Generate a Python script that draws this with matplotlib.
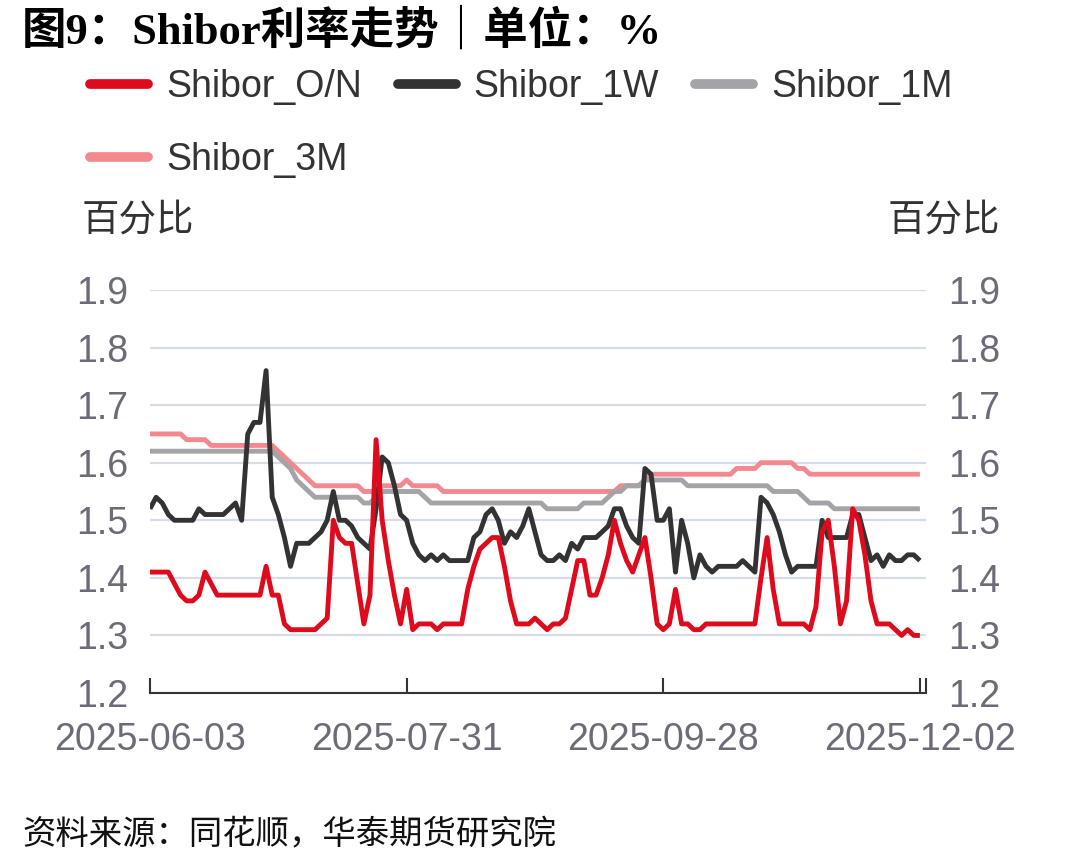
import matplotlib
matplotlib.use('Agg')
import matplotlib.pyplot as plt
from matplotlib.lines import Line2D
import numpy as np

# x 轴刻度（交易日序号）
tick_dates = ['2025-06-03', '2025-07-31', '2025-09-28', '2025-12-02']
tick_pos = [0, 42, 84, 126]

# Shibor 隔夜
on = [1.41, 1.41, 1.41, 1.41, 1.39, 1.37, 1.36, 1.36, 1.37, 1.41,
      1.39, 1.37, 1.37, 1.37, 1.37, 1.37, 1.37, 1.37, 1.37, 1.42,
      1.37, 1.37, 1.32, 1.31, 1.31, 1.31, 1.31, 1.31, 1.32, 1.33,
      1.50, 1.47, 1.46, 1.46, 1.39, 1.32, 1.37, 1.64, 1.50, 1.43,
      1.37, 1.32, 1.38, 1.31, 1.32, 1.32, 1.32, 1.31, 1.32, 1.32,
      1.32, 1.32, 1.38, 1.42, 1.45, 1.46, 1.47, 1.47, 1.42, 1.36,
      1.32, 1.32, 1.32, 1.33, 1.32, 1.31, 1.32, 1.32, 1.33, 1.38,
      1.43, 1.43, 1.37, 1.37, 1.40, 1.44, 1.50, 1.46, 1.43, 1.41,
      1.44, 1.47, 1.40, 1.32, 1.31, 1.32, 1.38, 1.32, 1.32, 1.31,
      1.31, 1.32, 1.32, 1.32, 1.32, 1.32, 1.32, 1.32, 1.32, 1.32,
      1.40, 1.47, 1.38, 1.32, 1.32, 1.32, 1.32, 1.32, 1.31, 1.35,
      1.48, 1.50, 1.42, 1.32, 1.36, 1.52, 1.50, 1.44, 1.36, 1.32,
      1.32, 1.32, 1.31, 1.30, 1.31, 1.30, 1.30]

# Shibor 1周
w1 = [1.52, 1.54, 1.53, 1.51, 1.50, 1.50, 1.50, 1.50, 1.52, 1.51,
      1.51, 1.51, 1.51, 1.52, 1.53, 1.50, 1.65, 1.67, 1.67, 1.76,
      1.54, 1.51, 1.47, 1.42, 1.46, 1.46, 1.46, 1.47, 1.48, 1.50,
      1.55, 1.50, 1.50, 1.49, 1.47, 1.46, 1.45, 1.52, 1.61, 1.60,
      1.56, 1.51, 1.50, 1.46, 1.44, 1.43, 1.44, 1.43, 1.44, 1.43,
      1.43, 1.43, 1.43, 1.47, 1.48, 1.51, 1.52, 1.50, 1.46, 1.48,
      1.47, 1.49, 1.52, 1.48, 1.44, 1.43, 1.43, 1.44, 1.43, 1.46,
      1.45, 1.47, 1.47, 1.47, 1.48, 1.49, 1.52, 1.52, 1.49, 1.47,
      1.46, 1.59, 1.58, 1.50, 1.50, 1.52, 1.41, 1.50, 1.46, 1.40,
      1.44, 1.42, 1.41, 1.42, 1.42, 1.42, 1.42, 1.43, 1.42, 1.41,
      1.54, 1.53, 1.51, 1.48, 1.44, 1.41, 1.42, 1.42, 1.42, 1.42,
      1.50, 1.47, 1.47, 1.47, 1.47, 1.51, 1.51, 1.47, 1.43, 1.44,
      1.42, 1.44, 1.43, 1.43, 1.44, 1.44, 1.43]

# Shibor 1个月
m1 = [1.62, 1.62, 1.62, 1.62, 1.62, 1.62, 1.62, 1.62, 1.62, 1.62,
      1.62, 1.62, 1.62, 1.62, 1.62, 1.62, 1.62, 1.62, 1.62, 1.62,
      1.62, 1.61, 1.60, 1.59, 1.57, 1.56, 1.55, 1.54, 1.54, 1.54,
      1.54, 1.54, 1.54, 1.54, 1.54, 1.53, 1.53, 1.54, 1.55, 1.55,
      1.55, 1.55, 1.55, 1.55, 1.55, 1.54, 1.53, 1.53, 1.53, 1.53,
      1.53, 1.53, 1.53, 1.53, 1.53, 1.53, 1.53, 1.53, 1.53, 1.53,
      1.53, 1.53, 1.53, 1.53, 1.53, 1.52, 1.52, 1.52, 1.52, 1.52,
      1.52, 1.53, 1.53, 1.53, 1.53, 1.54, 1.55, 1.55, 1.56, 1.56,
      1.56, 1.57, 1.57, 1.57, 1.57, 1.57, 1.57, 1.57, 1.56, 1.56,
      1.56, 1.56, 1.56, 1.56, 1.56, 1.56, 1.56, 1.56, 1.56, 1.56,
      1.56, 1.56, 1.55, 1.55, 1.55, 1.55, 1.55, 1.54, 1.53, 1.53,
      1.53, 1.53, 1.52, 1.52, 1.52, 1.52, 1.52, 1.52, 1.52, 1.52,
      1.52, 1.52, 1.52, 1.52, 1.52, 1.52, 1.52]

# Shibor 3个月
m3 = [1.65, 1.65, 1.65, 1.65, 1.65, 1.65, 1.64, 1.64, 1.64, 1.64,
      1.63, 1.63, 1.63, 1.63, 1.63, 1.63, 1.63, 1.63, 1.63, 1.63,
      1.63, 1.62, 1.61, 1.60, 1.59, 1.58, 1.57, 1.56, 1.56, 1.56,
      1.56, 1.56, 1.56, 1.56, 1.56, 1.55, 1.55, 1.55, 1.56, 1.56,
      1.56, 1.56, 1.57, 1.56, 1.56, 1.56, 1.56, 1.56, 1.55, 1.55,
      1.55, 1.55, 1.55, 1.55, 1.55, 1.55, 1.55, 1.55, 1.55, 1.55,
      1.55, 1.55, 1.55, 1.55, 1.55, 1.55, 1.55, 1.55, 1.55, 1.55,
      1.55, 1.55, 1.55, 1.55, 1.55, 1.55, 1.55, 1.56, 1.56, 1.56,
      1.56, 1.57, 1.58, 1.58, 1.58, 1.58, 1.58, 1.58, 1.58, 1.58,
      1.58, 1.58, 1.58, 1.58, 1.58, 1.58, 1.59, 1.59, 1.59, 1.59,
      1.60, 1.60, 1.60, 1.60, 1.60, 1.60, 1.59, 1.59, 1.58, 1.58,
      1.58, 1.58, 1.58, 1.58, 1.58, 1.58, 1.58, 1.58, 1.58, 1.58,
      1.58, 1.58, 1.58, 1.58, 1.58, 1.58, 1.58]

labels = ['Shibor_O/N', 'Shibor_1W', 'Shibor_1M', 'Shibor_3M']
data = [on, w1, m1, m3]
colors = ['#df0a1c', '#333333', '#a2a4a7', '#f3898f']
zorders = [6, 5, 4, 3]

LATIN = 'Liberation Sans'
CJK = 'Noto Sans CJK SC'
TICK_COL = '#6c6c78'
FS = 27

W, H = 1078, 866
fig = plt.figure(figsize=(W / 100, H / 100), dpi=100)
ax = fig.add_axes([150 / W, (H - 693) / H, 776 / W, 403 / H])

x = np.arange(len(on))
for vals, col, z in zip(data, colors, zorders):
    ax.plot(x, vals, color=col, lw=3.5, zorder=z,
            solid_joinstyle='round', solid_capstyle='butt')

ax.set_xlim(0, 127)
ax.set_ylim(1.2, 1.9)

# 网格 + 坐标轴
ax.set_yticks(np.arange(1.2, 1.91, 0.1))
ax.set_yticklabels(['%.1f' % v for v in np.arange(1.2, 1.91, 0.1)])
ax.yaxis.grid(True, color='#d8dce6', lw=1.6)
ax.set_axisbelow(True)
for s in ['top', 'left', 'right']:
    ax.spines[s].set_visible(False)
ax.spines['bottom'].set_color('#333333')
ax.spines['bottom'].set_linewidth(1.5)
ax.spines['bottom'].set_zorder(10)

ax.tick_params(axis='y', length=0, labelleft=True, labelright=True,
               pad=16, labelsize=FS, labelcolor=TICK_COL)
ax.set_xticks(tick_pos)
ax.set_xticklabels(tick_dates)
ax.set_xticks([127], minor=True)
ax.tick_params(axis='x', which='both', direction='in', length=11, width=1.5,
               color='#333333', pad=21, labelsize=FS, labelcolor=TICK_COL)
for t in ax.get_xticklabels() + ax.get_yticklabels():
    t.set_family(LATIN)

# 图例（列优先排列，首列放 O/N 和 3M）
order = [0, 3, 1, 2]
handles = [Line2D([0], [0], color=colors[i], lw=7, solid_capstyle='round') for i in order]
fig.legend(handles, [labels[i] for i in order], loc='upper left',
           bbox_to_anchor=(90 / W, 1 - 69 / H), ncol=3, frameon=False,
           prop={'family': LATIN, 'size': FS}, labelcolor='#333333',
           handlelength=1.55, handletextpad=0.48, columnspacing=0.95,
           labelspacing=0.98, borderpad=0, borderaxespad=0)

# 标题与注释
fig.text(22 / W, 1 - 30 / H, '图9：Shibor利率走势｜单位：%', fontsize=32,
         fontweight='bold', family=['Liberation Serif', CJK], va='center')
fig.text(82 / W, 1 - 220 / H, '百分比', fontsize=FS, family=CJK,
         color='#333333', va='center')
fig.text(888 / W, 1 - 220 / H, '百分比', fontsize=FS, family=CJK,
         color='#333333', va='center')
fig.text(22 / W, 1 - 835 / H, '资料来源：同花顺，华泰期货研究院', fontsize=24,
         family=CJK, style='italic', color='#111111', va='center')

fig.savefig('out.png', dpi=100, facecolor='white')
